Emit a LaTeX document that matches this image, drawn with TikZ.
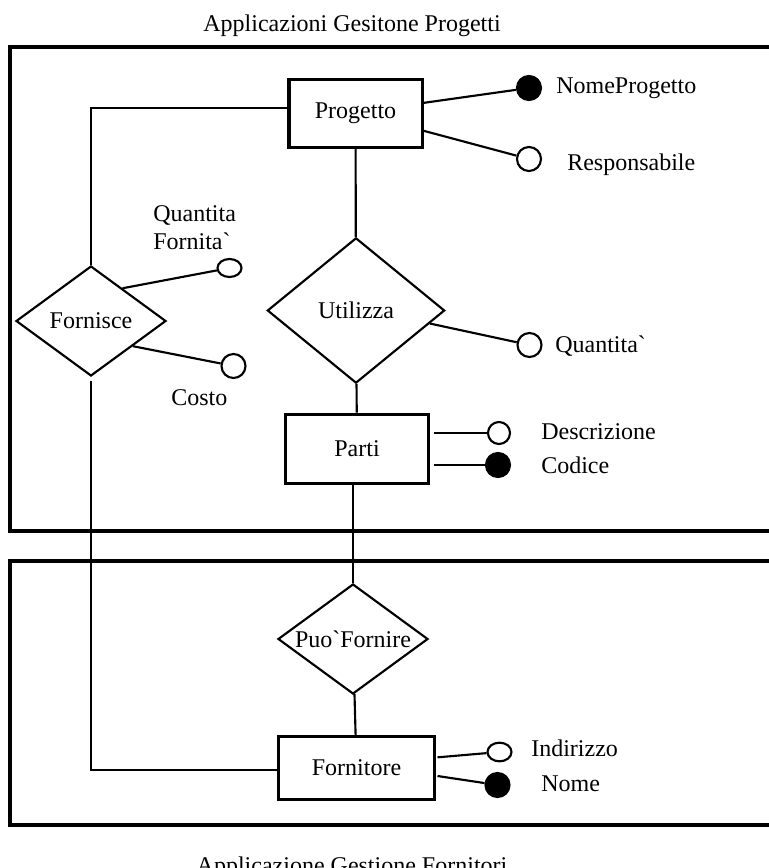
\documentclass[tikz,border=0pt]{standalone}
\usepackage{fontspec}
\setmainfont{Liberation Serif}
\usetikzlibrary{shapes}

\begin{document}
\begin{tikzpicture}[x=0.75pt,y=-0.75pt,
  every node/.style={font=\fontsize{18}{21}\selectfont},
  entity/.style={shape=rectangle,draw=black,line width=2.5pt,inner sep=0pt},
  rel/.style={shape=diamond,draw=black,line width=1.6pt,inner sep=0pt},
  attr/.style={shape=ellipse,draw=black,line width=1.6pt,inner sep=0pt,minimum width=18pt,minimum height=18pt},
  keyattr/.style={attr,fill=black},
  lbl/.style={anchor=base west,inner sep=0pt,align=left},
  link/.style={-,draw=black,line width=1.6pt},
  frame/.style={draw=black,line width=2.6pt}]
\useasboundingbox (0,0) rectangle (768,868);

% the two applications
\draw[frame] (10,47) rectangle (800,531);
\draw[frame] (10,561) rectangle (800,825);
\node[anchor=base] (title1) at (352,31) {Applicazioni Gesitone Progetti};
\node[anchor=base] (title2) at (352,873) {Applicazione Gestione Fornitori};

% entities and relations
\node[entity,minimum width=100pt,minimum height=51pt] (progetto) at (355.5,113.5) {Progetto};
\node[entity,minimum width=107pt,minimum height=52pt] (parti) at (357,449) {Parti};
\node[entity,minimum width=117pt,minimum height=47pt] (fornitore) at (356.5,768) {Fornitore};
\node[rel,minimum width=112.5pt,minimum height=82.5pt,label={[name=fornisce-t]center:Fornisce}] (fornisce) at (91,321) {};
\node[rel,minimum width=133pt,minimum height=109pt,label={[name=utilizza-t]center:Utilizza}] (utilizza) at (356,310.5) {};
\node[rel,minimum width=112.5pt,minimum height=82.5pt,label={[name=puofornire-t]center:Puo\textasciigrave Fornire}] (puofornire) at (353,639) {};

% attributes
\node[keyattr] (nomeprog) at (529,88) {};
\node[attr] (resp) at (529,159) {};
\node[attr,minimum height=13.5pt] (qfornita) at (229.5,268) {};
\node[attr] (costo) at (233.5,366) {};
\node[attr] (quantita) at (529.5,345) {};
\node[attr,minimum width=16.5pt,minimum height=16.5pt] (descr) at (499,433) {};
\node[keyattr] (codice) at (498,465) {};
\node[attr,minimum height=14pt] (indirizzo) at (499.5,752) {};
\node[keyattr] (nome) at (497.5,785) {};

\node[lbl] (nomeprog-t) at (556,93) {NomeProgetto};
\node[lbl] (resp-t) at (567,170) {Responsabile};
\node[lbl] (qfornita-t) at (153,249) {Quantita\\Fornita\textasciigrave};
\node[lbl] (costo-t) at (171,405) {Costo};
\node[lbl] (quantita-t) at (555,352) {Quantita\textasciigrave};
\node[lbl] (descr-t) at (541,439) {Descrizione};
\node[lbl] (codice-t) at (541,473) {Codice};
\node[lbl] (indirizzo-t) at (531,756) {Indirizzo};
\node[lbl] (nome-t) at (541,791) {Nome};

% connections
\path [link] ([yshift=4pt]progetto.west) -| (fornisce.north);
\path [link] (progetto) edge (utilizza);
\path [link] (utilizza) edge (parti);
\path [link] (puofornire.north |- parti.south) edge (puofornire.north);
\path [link] (puofornire) edge (fornitore);
\path [link] ([yshift=-3pt]fornisce.south) |- ([yshift=-1.5pt]fornitore.west);

\path [link] ([yshift=8pt]progetto.east) edge (nomeprog);
\path [link] ([yshift=-13pt]progetto.east) edge (resp);
\path [link] (fornisce.46) edge (qfornita);
\path [link] (fornisce.-31) edge (costo);
\path [link] (utilizza.-10) edge (quantita);
\path [link] ([xshift=3pt,yshift=12pt]parti.east) edge (descr);
\path [link] ([xshift=3pt,yshift=-12pt]parti.east) edge (codice);
\path [link] ([xshift=1pt,yshift=8pt]fornitore.east) edge (indirizzo);
\path [link] ([xshift=1pt,yshift=-6pt]fornitore.east) edge (nome);
\end{tikzpicture}
\end{document}
